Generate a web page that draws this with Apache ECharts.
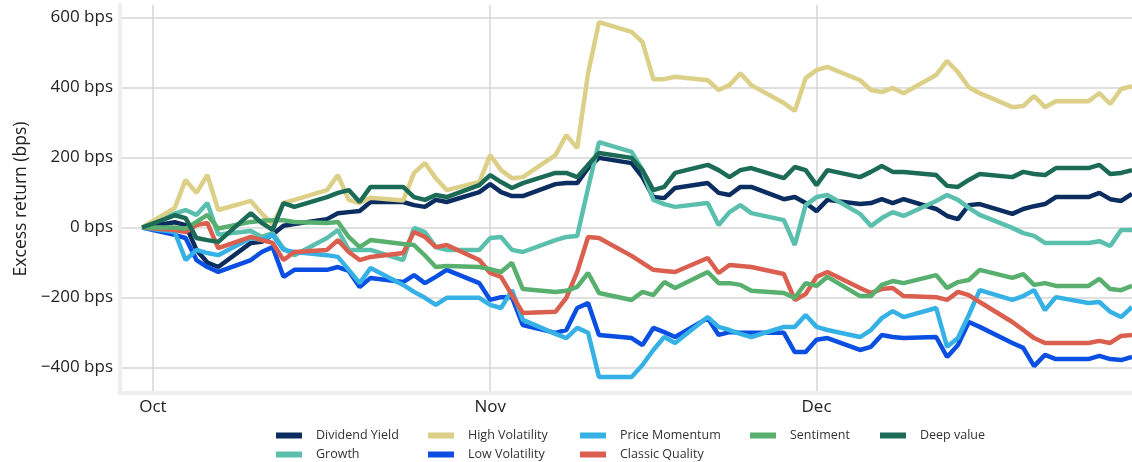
<!DOCTYPE html>
<html><head><meta charset="utf-8">
<script src="https://cdn.jsdelivr.net/npm/echarts@6/dist/echarts.min.js"></script>
<style>html,body{margin:0;padding:0;background:#fff}#c{width:1132px;height:462px}</style>
</head><body><div id="c"></div>
<script>
var dates = ['2022-09-30','2022-10-03','2022-10-04','2022-10-05','2022-10-06','2022-10-07','2022-10-10','2022-10-11','2022-10-12','2022-10-13','2022-10-14','2022-10-17','2022-10-18','2022-10-19','2022-10-20','2022-10-21','2022-10-24','2022-10-25','2022-10-26','2022-10-27','2022-10-28','2022-10-31','2022-11-01','2022-11-02','2022-11-03','2022-11-04','2022-11-07','2022-11-08','2022-11-09','2022-11-10','2022-11-11','2022-11-14','2022-11-15','2022-11-16','2022-11-17','2022-11-18','2022-11-21','2022-11-22','2022-11-23','2022-11-24','2022-11-25','2022-11-28','2022-11-29','2022-11-30','2022-12-01','2022-12-02','2022-12-05','2022-12-06','2022-12-07','2022-12-08','2022-12-09','2022-12-12','2022-12-13','2022-12-14','2022-12-15','2022-12-16','2022-12-19','2022-12-20','2022-12-21','2022-12-22','2022-12-23','2022-12-26','2022-12-27','2022-12-28','2022-12-29','2022-12-30'];

var dividendYield = [0,15,7,-64,-100,-113,-44,-41,-20,5,10,24,41,44,47,73,73,64,59,79,73,101,124,101,90,90,124,127,127,170,199,184,144,87,84,113,127,99,93,116,116,81,87,70,47,79,67,70,81,70,81,53,33,24,64,67,39,53,61,67,87,87,99,81,76,96];
var growth = [0,40,50,36,70,-20,-10,-27,-16,-60,-79,-30,-7,-64,-64,-64,-93,-1,-13,-56,-64,-64,-30,-27,-64,-70,-36,-27,-24,113,244,216,164,79,67,59,70,7,44,64,41,21,-50,64,87,93,39,4,27,44,33,76,93,79,56,36,-1,-16,-24,-44,-44,-44,-39,-53,-7,-7];
var highVolatility = [0,56,136,99,150,50,76,40,10,70,79,107,150,79,70,85,77,156,184,141,107,130,207,164,141,144,207,264,227,441,587,559,530,424,424,431,421,393,407,441,407,356,333,427,450,459,421,393,387,399,384,436,476,444,401,384,344,347,376,344,361,361,384,353,396,404];
var lowVolatility = [0,-21,-30,-93,-113,-127,-93,-70,-56,-141,-121,-121,-113,-124,-170,-144,-156,-136,-159,-141,-121,-159,-207,-199,-199,-279,-301,-293,-230,-216,-307,-316,-336,-287,-299,-313,-259,-307,-299,-301,-301,-301,-356,-356,-321,-316,-350,-341,-307,-313,-316,-313,-370,-336,-270,-284,-330,-344,-396,-364,-376,-376,-367,-376,-379,-370];
var priceMomentum = [0,-13,-93,-64,-73,-79,-30,-36,-21,-64,-70,-79,-84,-121,-159,-116,-164,-184,-201,-221,-201,-201,-221,-230,-179,-264,-304,-316,-287,-301,-427,-427,-393,-350,-313,-330,-256,-284,-293,-304,-313,-284,-284,-250,-284,-293,-313,-293,-259,-239,-256,-230,-341,-316,-250,-179,-207,-196,-179,-236,-199,-216,-213,-241,-256,-227];
var classicQuality = [0,-7,-13,7,13,-59,-27,-36,-44,-93,-70,-64,-36,-70,-93,-84,-73,-13,-27,-56,-50,-93,-130,-141,-193,-244,-241,-201,-127,-27,-30,-81,-101,-121,-124,-127,-87,-130,-107,-110,-113,-133,-207,-190,-141,-127,-173,-187,-176,-173,-196,-199,-207,-184,-193,-213,-270,-293,-316,-330,-330,-330,-324,-330,-310,-307];
var sentiment = [0,0,-3,16,36,-3,16,19,21,21,16,13,16,-27,-56,-36,-47,-50,-80,-113,-110,-113,-119,-127,-101,-176,-184,-181,-170,-130,-187,-207,-184,-193,-156,-173,-127,-159,-159,-164,-181,-187,-201,-159,-167,-141,-196,-196,-164,-153,-159,-136,-173,-156,-150,-121,-144,-133,-164,-159,-167,-167,-147,-176,-179,-167];
var deepValue = [0,35,27,-30,-36,-41,41,13,-7,70,59,87,99,107,73,116,116,87,79,93,87,121,150,130,113,127,156,156,144,179,213,199,164,107,116,156,179,164,144,164,170,141,173,164,121,164,144,159,176,159,159,150,119,116,136,153,144,159,153,150,170,170,179,153,156,164];

var yTicks = [-400,-200,0,200,400,600];
var xTicks = ['2022-10-01','2022-11-01','2022-12-01'];
var monthNames = ['Jan','Feb','Mar','Apr','May','Jun','Jul','Aug','Sep','Oct','Nov','Dec'];

var seriesDefs = [
  ['Dividend Yield', dividendYield, '#0b2d5f'],
  ['Growth', growth, '#5bbfae'],
  ['High Volatility', highVolatility, '#dccf88'],
  ['Low Volatility', lowVolatility, '#0a4fe2'],
  ['Price Momentum', priceMomentum, '#35b1e5'],
  ['Classic Quality', classicQuality, '#da5f4e'],
  ['Sentiment', sentiment, '#59b06e'],
  ['Deep value', deepValue, '#1b6b57']
];

function ts(d) { var p = d.split('-'); return Date.UTC(+p[0], +p[1] - 1, +p[2]); }
var DAY = 86400000;
var oct1 = ts('2022-10-01');
var xMin = oct1 - 3.03 * DAY;
var xMax = oct1 + 90 * DAY;
var xTickVals = xTicks.map(ts);

var FONT = 'Open Sans';
// legend slots: [name, left, top]
var legendSlots = [
  ['Dividend Yield', 276, 429], ['High Volatility', 428, 429], ['Price Momentum', 580, 429], ['Sentiment', 750, 429], ['Deep value', 880, 429],
  ['Growth', 276, 448], ['Low Volatility', 428, 448], ['Classic Quality', 580, 448]
];

var chart = echarts.init(document.getElementById('c'), null, {renderer: 'canvas'});
chart.setOption({
  animation: false,
  backgroundColor: '#ffffff',
  grid: {left: 120, top: 5, right: 0, bottom: 69, containLabel: false},
  legend: legendSlots.map(function (s) {
    return {
      data: [s[0]], left: s[1], top: s[2], padding: 0,
      icon: 'rect', itemWidth: 26, itemHeight: 6,
      selectedMode: false,
      textStyle: {fontFamily: FONT, fontSize: 12.5, color: '#333', padding: [0, 0, 0, 9]}
    };
  }),
  xAxis: {
    type: 'value', min: xMin, max: xMax,
    axisLine: {show: true, onZero: false, lineStyle: {color: '#eeeeee', width: 4}},
    axisTick: {show: false, customValues: xTickVals},
    axisLabel: {
      customValues: xTickVals,
      formatter: function (v) { return monthNames[new Date(v).getUTCMonth()]; },
      fontFamily: FONT, fontSize: 17, color: '#222', margin: 6
    },
    splitLine: {show: true, lineStyle: {color: '#d6d6d6', width: 1.5}}
  },
  yAxis: {
    type: 'value', min: -473, max: 636,
    name: 'Excess return (bps)', nameLocation: 'middle', nameGap: 88, nameRotate: 90,
    nameTextStyle: {fontFamily: FONT, fontSize: 17.5, color: '#222'},
    axisLine: {show: true, onZero: false, lineStyle: {color: '#eeeeee', width: 4}},
    axisTick: {show: false, customValues: yTicks},
    axisLabel: {
      customValues: yTicks,
      formatter: function (v) { return (v < 0 ? '\u2212' + (-v) : v) + ' bps'; },
      fontFamily: FONT, fontSize: 17, color: '#222', margin: 7
    },
    splitLine: {show: true, lineStyle: {color: '#d6d6d6', width: 1.5}}
  },
  series: seriesDefs.map(function (s) {
    return {
      name: s[0], type: 'line', showSymbol: false, symbol: 'none',
      data: dates.map(function (d, i) { return [ts(d), s[1][i]]; }),
      lineStyle: {color: s[2], width: 4.5},
      itemStyle: {color: s[2]},
      z: 3
    };
  })
});
</script></body></html>
